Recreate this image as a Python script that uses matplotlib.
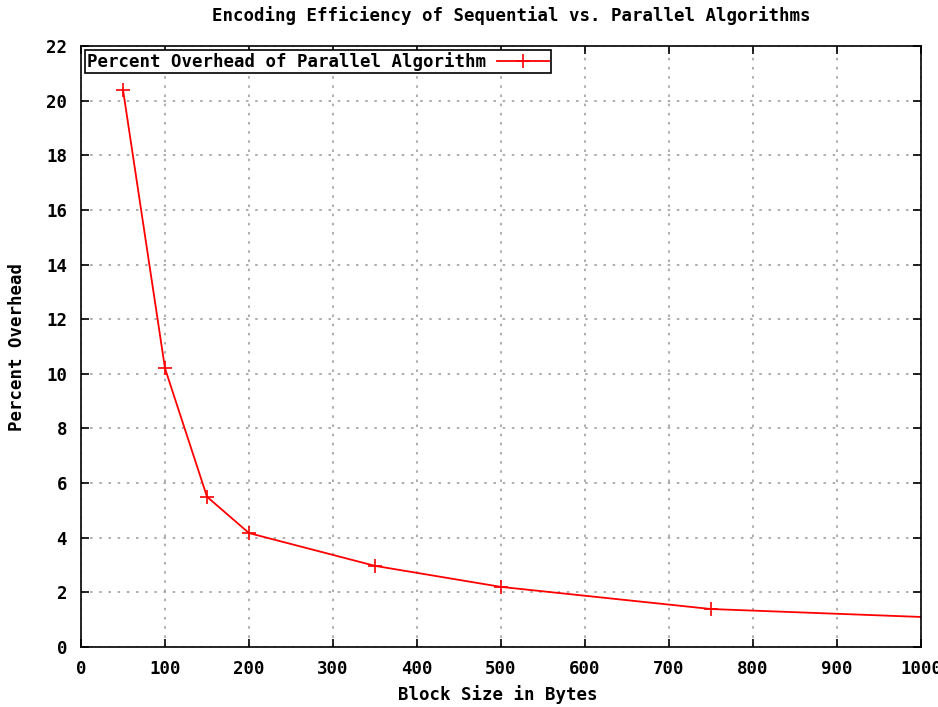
import matplotlib
matplotlib.use("Agg")
import matplotlib.pyplot as plt

block_size = [50, 100, 150, 200, 350, 500, 750, 1000]
overhead = [20.4, 10.2, 5.5, 4.17, 2.97, 2.2, 1.39, 1.1]
x_ticks = [0, 100, 200, 300, 400, 500, 600, 700, 800, 900, 1000]
y_ticks = [0, 2, 4, 6, 8, 10, 12, 14, 16, 18, 20, 22]

plt.rcParams['font.family'] = ['DejaVu Sans Mono']
plt.rcParams['font.weight'] = 'bold'
FS = 12.5
W, H = 938, 707

fig = plt.figure(figsize=(W/100, H/100), dpi=100)
ax = fig.add_axes([81/W, 60/H, (921-81)/W, (647-46)/H])

ax.plot(block_size, overhead, color='red', lw=1.3, marker='+', ms=10, mew=1.2,
        markevery=list(range(len(block_size) - 1)),
        label='Percent Overhead of Parallel Algorithm')

ax.set_xlim(0, 1000)
ax.set_ylim(0, 22)
ax.set_xticks(x_ticks)
ax.set_yticks(y_ticks)
ax.tick_params(axis='both', direction='in', top=True, right=True, length=6, width=1.2,
               labelsize=FS)
ax.tick_params(axis='x', pad=9)
ax.tick_params(axis='y', pad=10)
for lbl in ax.get_xticklabels() + ax.get_yticklabels():
    lbl.set_fontweight('bold')
ax.grid(True, color='#a0a0a0', linestyle=(0, (1.5, 4)), lw=1.2)
for s in ax.spines.values():
    s.set_linewidth(1.2)

fig.text(511/W, 1 - 16/H, 'Encoding Efficiency of Sequential vs. Parallel Algorithms',
         fontsize=FS, fontweight='bold', ha='center', va='center')
fig.text(498/W, 1 - 695/H, 'Block Size in Bytes',
         fontsize=FS, fontweight='bold', ha='center', va='center')
fig.text(17/W, 1 - 347/H, 'Percent Overhead', rotation=90,
         fontsize=FS, fontweight='bold', ha='center', va='center')

leg = ax.legend(loc='upper left', bbox_to_anchor=(0.005, 0.993), markerfirst=False,
                frameon=True, fancybox=False, borderpad=0.12, handlelength=3.0,
                handletextpad=0.6, prop={'weight': 'bold', 'size': FS}, borderaxespad=0.0)
leg.get_frame().set_edgecolor('black')
leg.get_frame().set_linewidth(1.2)
leg.get_frame().set_alpha(1)

fig.savefig('out.png', dpi=100)
